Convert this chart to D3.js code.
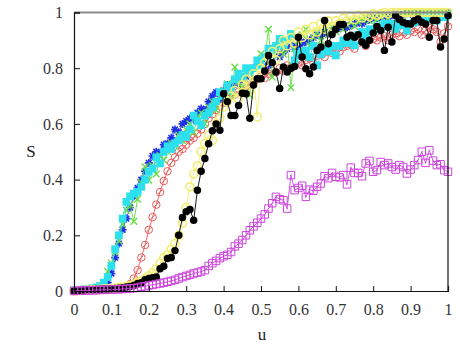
<!DOCTYPE html>
<html>
<head>
<meta charset="utf-8">
<script src="https://cdn.jsdelivr.net/npm/d3@7"></script>
<style>
  body { margin: 0; background: #fff; }
</style>
</head>
<body>
<script>
// sampling grid of the control parameter u
var uGrid = [0,0.01,0.02,0.03,0.04,0.05,0.06,0.07,0.08,0.09,
  0.1,0.11,0.12,0.13,0.14,0.15,0.16,0.17,0.18,0.19,
  0.2,0.21,0.22,0.23,0.24,0.25,0.26,0.27,0.28,0.29,
  0.3,0.31,0.32,0.33,0.34,0.35,0.36,0.37,0.38,0.39,
  0.4,0.41,0.42,0.43,0.44,0.45,0.46,0.47,0.48,0.49,
  0.5,0.51,0.52,0.53,0.54,0.55,0.56,0.57,0.58,0.59,
  0.6,0.61,0.62,0.63,0.64,0.65,0.66,0.67,0.68,0.69,
  0.7,0.71,0.72,0.73,0.74,0.75,0.76,0.77,0.78,0.79,
  0.8,0.81,0.82,0.83,0.84,0.85,0.86,0.87,0.88,0.89,
  0.9,0.91,0.92,0.93,0.94,0.95,0.96,0.97,0.98,0.99,1];

var xTicks = [0,0.1,0.2,0.3,0.4,0.5,0.6,0.7,0.8,0.9,1];
var yTicks = [0,0.2,0.4,0.6,0.8,1];

// S(u) for each curve
var redS = [0,0.001,0.001,0.002,0.002,0.003,0.003,0.004,0.004,0.005,
  0.006,0.007,0.008,0.01,0.015,0.025,0.045,0.075,0.12,0.165,
  0.22,0.265,0.31,0.355,0.395,0.43,0.46,0.48,0.5,0.51,
  0.525,0.54,0.55,0.565,0.58,0.6,0.62,0.635,0.65,0.665,
  0.675,0.69,0.7,0.705,0.715,0.72,0.735,0.74,0.75,0.76,
  0.77,0.765,0.78,0.79,0.785,0.8,0.79,0.81,0.8,0.815,
  0.82,0.81,0.83,0.835,0.82,0.845,0.85,0.84,0.86,0.855,
  0.87,0.86,0.875,0.88,0.885,0.87,0.89,0.895,0.88,0.9,
  0.905,0.9,0.91,0.915,0.9,0.92,0.925,0.915,0.93,0.92,
  0.935,0.93,0.94,0.92,0.935,0.945,0.94,0.93,0.895,0.925,0.95];

var blueS = [0,0.001,0.002,0.003,0.005,0.007,0.009,0.012,0.018,0.03,
  0.063,0.12,0.17,0.22,0.26,0.3,0.34,0.37,0.4,0.43,
  0.46,0.485,0.5,0.495,0.525,0.53,0.55,0.58,0.57,0.6,
  0.61,0.62,0.615,0.64,0.655,0.65,0.68,0.7,0.714,0.69,
  0.72,0.74,0.73,0.756,0.74,0.76,0.77,0.78,0.8,0.81,
  0.816,0.82,0.81,0.84,0.852,0.84,0.86,0.87,0.888,0.875,
  0.88,0.89,0.895,0.9,0.91,0.92,0.915,0.93,0.925,0.935,
  0.94,0.945,0.95,0.947,0.955,0.96,0.965,0.96,0.97,0.975,
  0.983,0.98,0.985,0.99,0.985,0.99,0.995,0.99,0.995,1,
  0.995,1,1,1,0.995,1,1,1,1,1,1];

var greenS = [0.002,0.003,0.004,0.005,0.006,0.008,0.011,0.015,0.03,0.07,
  0.1,0.14,0.18,0.24,0.29,0.31,0.25,0.33,0.39,0.446,
  0.398,0.45,0.42,0.487,0.47,0.5,0.53,0.52,0.56,0.54,
  0.58,0.6,0.57,0.62,0.64,0.6,0.66,0.68,0.65,0.7,
  0.72,0.744,0.7,0.804,0.75,0.73,0.78,0.703,0.8,0.82,
  0.852,0.83,0.94,0.768,0.86,0.88,0.85,0.9,0.73,0.87,
  0.9,0.92,0.94,0.88,0.91,0.93,0.9,0.94,0.92,0.95,
  0.93,0.96,0.94,0.955,0.97,0.95,0.965,0.975,0.983,0.97,
  0.98,0.975,0.985,0.99,0.98,0.99,0.995,0.985,0.99,1,
  0.995,1,0.99,1,1,0.995,1,1,1,0.995,1];

var cyanS = [0.003,0.004,0.005,0.006,0.008,0.01,0.013,0.018,0.03,0.05,
  0.09,0.15,0.2,0.26,0.32,0.34,0.35,0.356,0.374,0.4,
  0.428,0.44,0.48,0.458,0.5,0.52,0.51,0.53,0.541,0.56,
  0.553,0.58,0.63,0.61,0.595,0.63,0.64,0.66,0.68,0.714,
  0.7,0.738,0.72,0.76,0.78,0.77,0.8,0.786,0.8,0.828,
  0.81,0.84,0.87,0.85,0.88,0.905,0.88,0.9,0.923,0.828,
  0.85,0.86,0.864,0.84,0.88,0.81,0.85,0.87,0.86,0.88,
  0.846,0.88,0.9,0.89,0.91,0.882,0.92,0.93,0.915,0.94,
  0.935,0.95,0.94,0.959,0.95,0.96,0.941,0.955,0.96,0.935,
  0.96,0.965,0.97,0.975,0.989,0.975,0.98,0.971,0.985,0.983,0.99];

var yellowS = [0,0.001,0.002,0.003,0.004,0.005,0.005,0.006,0.007,0.008,
  0.009,0.01,0.012,0.014,0.017,0.02,0.025,0.03,0.035,0.045,
  0.055,0.065,0.08,0.1,0.12,0.13,0.15,0.17,0.2,0.243,
  0.3,0.374,0.42,0.45,0.5,0.53,0.56,0.54,0.6,0.62,
  0.66,0.68,0.7,0.72,0.69,0.74,0.76,0.72,0.78,0.625,
  0.8,0.82,0.84,0.86,0.83,0.87,0.9,0.88,0.91,0.89,
  0.93,0.91,0.94,0.92,0.95,0.93,0.96,0.94,0.97,0.95,
  0.97,0.96,0.98,0.97,0.985,0.975,0.99,0.98,0.99,0.985,
  0.995,0.99,0.995,1,0.995,1,1,1,1,1,
  1,1,1,1,1,1,1,1,1,1,1];

var blackS = [0,0.002,0.003,0.004,0.005,0.005,0.006,0.006,0.007,0.007,
  0.008,0.009,0.01,0.012,0.014,0.016,0.02,0.027,0.03,0.04,
  0.045,0.048,0.05,0.08,0.089,0.117,0.12,0.145,0.2,0.264,
  0.285,0.293,0.254,0.362,0.43,0.476,0.529,0.575,0.6,0.577,
  0.708,0.68,0.63,0.63,0.666,0.71,0.708,0.62,0.74,0.762,
  0.762,0.79,0.846,0.82,0.786,0.727,0.804,0.786,0.8,0.806,
  0.911,0.84,0.798,0.78,0.804,0.864,0.876,0.971,0.888,0.921,
  0.94,0.957,0.957,0.911,0.918,0.911,0.92,0.894,0.882,0.9,
  0.926,0.95,0.935,0.864,0.947,0.894,0.989,0.975,0.965,0.96,
  0.959,0.97,0.977,0.965,0.959,0.911,0.971,0.971,0.876,0.905,0.989];

var magentaS = [0,0.001,0.001,0.002,0.002,0.003,0.003,0.004,0.004,0.005,
  0.005,0.006,0.006,0.007,0.008,0.009,0.01,0.012,0.015,0.017,
  0.02,0.022,0.025,0.027,0.03,0.033,0.036,0.04,0.045,0.05,
  0.054,0.058,0.063,0.066,0.07,0.075,0.09,0.1,0.108,0.118,
  0.125,0.13,0.14,0.16,0.17,0.183,0.2,0.218,0.232,0.245,
  0.26,0.275,0.296,0.315,0.338,0.33,0.326,0.296,0.416,0.362,
  0.37,0.378,0.338,0.364,0.36,0.374,0.386,0.412,0.405,0.424,
  0.41,0.408,0.416,0.383,0.443,0.424,0.424,0.412,0.458,0.467,
  0.428,0.434,0.463,0.452,0.458,0.445,0.436,0.452,0.445,0.422,
  0.436,0.452,0.47,0.5,0.46,0.505,0.468,0.452,0.455,0.434,0.428];

var W = 460, H = 348;
var serif = "'Liberation Serif', 'DejaVu Serif', serif";
var x = d3.scaleLinear().domain([0, 1]).range([74, 448]);
var y = d3.scaleLinear().domain([0, 1]).range([291, 12.5]);

var svg = d3.select("body").append("svg")
    .attr("width", W)
    .attr("height", H);

// custom marker shapes (gnuplot-ish)
var asterisk = {
    draw: function (ctx, size) {
        var r = Math.sqrt(size) / 2;
        var d = r * 0.72;
        ctx.moveTo(-r, 0); ctx.lineTo(r, 0);
        ctx.moveTo(0, -r); ctx.lineTo(0, r);
        ctx.moveTo(-d, -d); ctx.lineTo(d, d);
        ctx.moveTo(-d, d); ctx.lineTo(d, -d);
    }
};
var cross = {
    draw: function (ctx, size) {
        var r = Math.sqrt(size) / 2;
        ctx.moveTo(-r, -r); ctx.lineTo(r, r);
        ctx.moveTo(-r, r); ctx.lineTo(r, -r);
    }
};
var slashCircle = {
    draw: function (ctx, size) {
        var r = Math.sqrt(size) / 2;
        ctx.moveTo(r, 0);
        ctx.arc(0, 0, r, 0, 2 * Math.PI);
        ctx.moveTo(-r * 0.6, r * 0.6); ctx.lineTo(r * 0.6, -r * 0.6);
    }
};
var dotSquare = {
    draw: function (ctx, size) {
        var r = Math.sqrt(size) / 2;
        ctx.rect(-r, -r, 2 * r, 2 * r);
        ctx.moveTo(-0.8, 0.6); ctx.lineTo(0.8, -0.6);
    }
};

var series = [
    {name: "red", vals: redS, color: "#e85a5a", sym: slashCircle, size: 56, fill: "none", sw: 1},
    {name: "blue", vals: blueS, color: "#1f2fe8", sym: asterisk, size: 64, fill: "none", sw: 1.6},
    {name: "green", vals: greenS, color: "#66dd44", sym: cross, size: 44, fill: "none", sw: 1.4},
    {name: "cyan", vals: cyanS, color: "#2ce0ee", sym: d3.symbolSquare, size: 60, fill: "#2ce0ee", sw: 0},
    {name: "yellow", vals: yellowS, color: "#f2ee74", sym: d3.symbolCircle, size: 50, fill: "none", sw: 1.6},
    {name: "black", vals: blackS, color: "#000", sym: d3.symbolCircle, size: 44, fill: "#000", sw: 0},
    {name: "magenta", vals: magentaS, color: "#cc44dd", sym: dotSquare, size: 56, fill: "none", sw: 1}
];

var line = d3.line()
    .x(function (d) { return x(d[0]); })
    .y(function (d) { return y(d[1]); });

series.forEach(function (s) {
    var pts = uGrid.map(function (u, i) { return [u, s.vals[i]]; });
    var g = svg.append("g").attr("class", "series-" + s.name);
    g.append("path")
        .datum(pts)
        .attr("d", line)
        .attr("fill", "none")
        .attr("stroke", s.color)
        .attr("stroke-width", 0.9);
    g.selectAll("path.mark")
        .data(pts)
        .enter().append("path")
        .attr("class", "mark")
        .attr("transform", function (d) { return "translate(" + x(d[0]) + "," + y(d[1]) + ")"; })
        .attr("d", d3.symbol().type(s.sym).size(s.size))
        .attr("fill", s.fill)
        .attr("stroke", s.sw ? s.color : "none")
        .attr("stroke-width", s.sw);
});

// frame
var frame = svg.append("g");
frame.append("line").attr("x1", 74).attr("x2", 448).attr("y1", 12.5).attr("y2", 12.5)
    .attr("stroke", "#8a8a8a").attr("stroke-width", 2);
frame.append("line").attr("x1", 448).attr("x2", 448).attr("y1", 12).attr("y2", 291)
    .attr("stroke", "#111").attr("stroke-width", 1.2);

// axes with inward ticks
var fmt = function (d) { return d === 0 || d === 1 ? d : d3.format(".1f")(d); };
var xAxis = svg.append("g")
    .attr("transform", "translate(0,291)")
    .call(d3.axisBottom(x).tickValues(xTicks).tickSize(-5).tickPadding(13).tickFormat(fmt));
var yAxis = svg.append("g")
    .attr("transform", "translate(74,0)")
    .call(d3.axisLeft(y).tickValues(yTicks).tickSize(-6).tickPadding(11).tickFormat(fmt));

[xAxis, yAxis].forEach(function (a) {
    a.attr("font-family", null);
    a.select(".domain").attr("stroke", "#111").attr("stroke-width", 1.2);
    a.selectAll(".tick line").attr("stroke", "#111").attr("stroke-width", 1);
    a.selectAll(".tick text")
        .style("font-family", serif)
        .style("font-size", "16px")
        .attr("fill", "#333");
});

svg.append("text")
    .attr("x", 262)
    .attr("y", 340)
    .attr("text-anchor", "middle")
    .style("font-family", serif)
    .style("font-size", "17px")
    .attr("fill", "#222")
    .text("u");

svg.append("text")
    .attr("x", 31)
    .attr("y", 157)
    .attr("text-anchor", "middle")
    .style("font-family", serif)
    .style("font-size", "17px")
    .attr("fill", "#222")
    .text("S");
</script>
</body>
</html>
